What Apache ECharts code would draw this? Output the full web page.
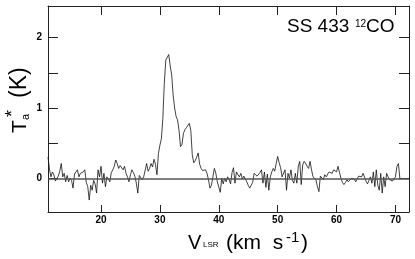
<!DOCTYPE html>
<html>
<head>
<meta charset="utf-8">
<script src="https://cdn.jsdelivr.net/npm/echarts@6/dist/echarts.min.js"></script>
<style>html,body{margin:0;padding:0;background:#fff}#c{width:415px;height:259px}</style>
</head>
<body>
<div id="c"></div>
<script>
// Spectrum: channel grid start and width (km/s)
const V_START = 11.0;
const V_STEP = 0.25;
// Antenna temperature Ta* (K), one value per channel
const ta = [
 0.30, 0.13, 0.02, 0.09, 0.05,-0.04,-0.02, 0.03, 0.10, 0.21,
 0.02, 0.07,-0.05, 0.04,-0.05, 0.00,-0.03,-0.14, 0.06, 0.09,
 0.12, 0.02, 0.07, 0.05, 0.09, 0.12,-0.06,-0.12,-0.31,-0.10,
-0.17,-0.03,-0.08,-0.21, 0.12, 0.02, 0.17,-0.07, 0.07,-0.12,
 0.02,-0.01,-0.05, 0.08, 0.12, 0.17, 0.26, 0.21, 0.14, 0.18,
 0.16, 0.12, 0.17, 0.07, 0.02,-0.05, 0.05, 0.12, 0.08, 0.03,
-0.07,-0.21, 0.04, 0.02,-0.02, 0.02, 0.02, 0.21, 0.10, 0.14,
 0.21, 0.16, 0.27, 0.20, 0.05, 0.35, 0.47, 0.56, 0.85, 1.35,
 1.68, 1.68, 1.76, 1.60, 1.47, 1.18, 1.00, 0.88, 0.83, 0.68,
 0.45, 0.48, 0.64, 0.69, 0.72, 0.74, 0.78, 0.68, 0.33, 0.22,
 0.25, 0.30, 0.36, 0.20, 0.14, 0.11, 0.10, 0.12, 0.07,-0.02,
-0.14,-0.10, 0.02, 0.14, 0.07,-0.05,-0.03,-0.20, 0.00,-0.08,
 0.00,-0.05, 0.02,-0.02,-0.08, 0.08, 0.15,-0.07, 0.09, 0.05,
 0.02, 0.07,-0.01, 0.03, 0.01,-0.05,-0.10,-0.14,-0.12,-0.06,
 0.07, 0.08, 0.03, 0.04, 0.08, 0.12,-0.07, 0.09,-0.13, 0.06,
-0.17, 0.02, 0.09, 0.14, 0.10, 0.21, 0.31, 0.22, 0.15, 0.02,
 0.04, 0.12,-0.17, 0.07, 0.00, 0.12,-0.03,-0.07, 0.07,-0.07,
 0.17, 0.24,-0.09, 0.19, 0.24, 0.21, 0.17, 0.14, 0.24, 0.12,
 0.02, 0.02,-0.02,-0.12,-0.19, 0.03, 0.01,-0.02, 0.05, 0.02,
 0.06, 0.09, 0.08, 0.07, 0.12, 0.14, 0.09, 0.17, 0.08, 0.00,
-0.06,-0.09,-0.06,-0.02,-0.05,-0.07, 0.00, 0.02,-0.01,-0.05,
-0.03, 0.03, 0.05, 0.02, 0.07, 0.05,-0.04,-0.08,-0.03, 0.02,
-0.07, 0.09,-0.12, 0.12,-0.10,-0.17, 0.07,-0.21, 0.02,-0.12,
 0.07, 0.02,-0.02,-0.02,-0.04,-0.03, 0.02, 0.17, 0.21, 0.00
];
const xTicks = [20, 30, 40, 50, 60, 70];
const yTicks = [0, 0.5, 1, 1.5, 2];
const yLabels = [0, 1, 2];

const pts = ta.map((t, i) => [V_START + i * V_STEP, t]);

const FONT = '"Liberation Sans", Arial, Helvetica, sans-serif';
const AX = '#222';

const chart = echarts.init(document.getElementById('c'), null, {renderer: 'canvas'});
const baseX = {
  type: 'value', min: 11, max: 72.3, gridIndex: 0,
  axisLine: {show: true, onZero: false, lineStyle: {color: AX, width: 1}},
  splitLine: {show: false}
};
const baseY = {
  type: 'value', min: -0.48, max: 2.45, gridIndex: 0,
  axisLine: {show: true, onZero: false, lineStyle: {color: AX, width: 1}},
  splitLine: {show: false}
};
chart.setOption({
  animation: false,
  backgroundColor: '#fff',
  grid: {left: 48, right: 6, top: 6, bottom: 47},
  xAxis: [
    Object.assign({}, baseX, {
      position: 'bottom',
      axisTick: {show: true, inside: true, length: 7, customValues: xTicks, lineStyle: {color: AX, width: 1}},
      axisLabel: {show: true, customValues: xTicks, margin: 3, fontSize: 10, fontWeight: 'bold', color: '#000', fontFamily: FONT}
    }),
    Object.assign({}, baseX, {
      position: 'top',
      axisTick: {show: true, inside: true, length: 9, customValues: xTicks, lineStyle: {color: AX, width: 1}},
      axisLabel: {show: false}
    })
  ],
  yAxis: [
    Object.assign({}, baseY, {
      position: 'left',
      axisTick: {show: true, inside: true, length: 10, customValues: yTicks, lineStyle: {color: AX, width: 1}},
      axisLabel: {show: true, customValues: yLabels, margin: 6, fontSize: 10, fontWeight: 'bold', color: '#000', fontFamily: FONT}
    }),
    Object.assign({}, baseY, {
      position: 'right',
      axisTick: {show: true, inside: true, length: 10, customValues: yTicks, lineStyle: {color: AX, width: 1}},
      axisLabel: {show: false}
    })
  ],
  series: [{
    type: 'line',
    data: pts,
    xAxisIndex: 0, yAxisIndex: 0,
    showSymbol: false,
    symbol: 'none',
    lineStyle: {color: '#111', width: 0.8},
    markLine: {
      silent: true, symbol: 'none', animation: false,
      label: {show: false},
      lineStyle: {color: '#555', width: 1.6, type: 'solid'},
      data: [{yAxis: 0}]
    }
  }],
  graphic: [
    // title
    {type: 'text', left: 287, top: 17, style: {text: 'SS 433', font: '19px ' + FONT, fill: '#000'}},
    {type: 'text', left: 355, top: 19, style: {text: '12', font: '10px ' + FONT, fill: '#000'}},
    {type: 'text', left: 366, top: 17, style: {text: 'CO', font: '19px ' + FONT, fill: '#000'}},
    // x axis name
    {type: 'text', left: 188, top: 233, style: {text: 'V', font: '20px ' + FONT, fill: '#000'}},
    {type: 'text', left: 203, top: 241, style: {text: 'LSR', font: '8px ' + FONT, fill: '#000'}},
    {type: 'text', left: 226, top: 233, style: {text: '(km  s', font: '21px ' + FONT, fill: '#000'}},
    {type: 'text', left: 286, top: 230, style: {text: '-1', font: '15px ' + FONT, fill: '#000'}},
    {type: 'text', left: 301, top: 233, style: {text: ')', font: '21px ' + FONT, fill: '#000'}},
    // y axis name (rotated)
    {type: 'group', x: 28, y: 133, rotation: Math.PI / 2, children: [
      {type: 'text', x: 0, y: -7.5, style: {text: 'T', font: '21px ' + FONT, fill: '#000', verticalAlign: 'middle'}},
      {type: 'text', x: 13, y: -2, style: {text: 'a', font: '11px ' + FONT, fill: '#000', verticalAlign: 'middle'}},
      {type: 'text', x: 16, y: -15, style: {text: '*', font: '18px ' + FONT, fill: '#000', verticalAlign: 'middle'}},
      {type: 'text', x: 35, y: -8, style: {text: '(K)', font: '23px ' + FONT, fill: '#000', verticalAlign: 'middle'}}
    ]}
  ]
});
</script>
</body>
</html>
